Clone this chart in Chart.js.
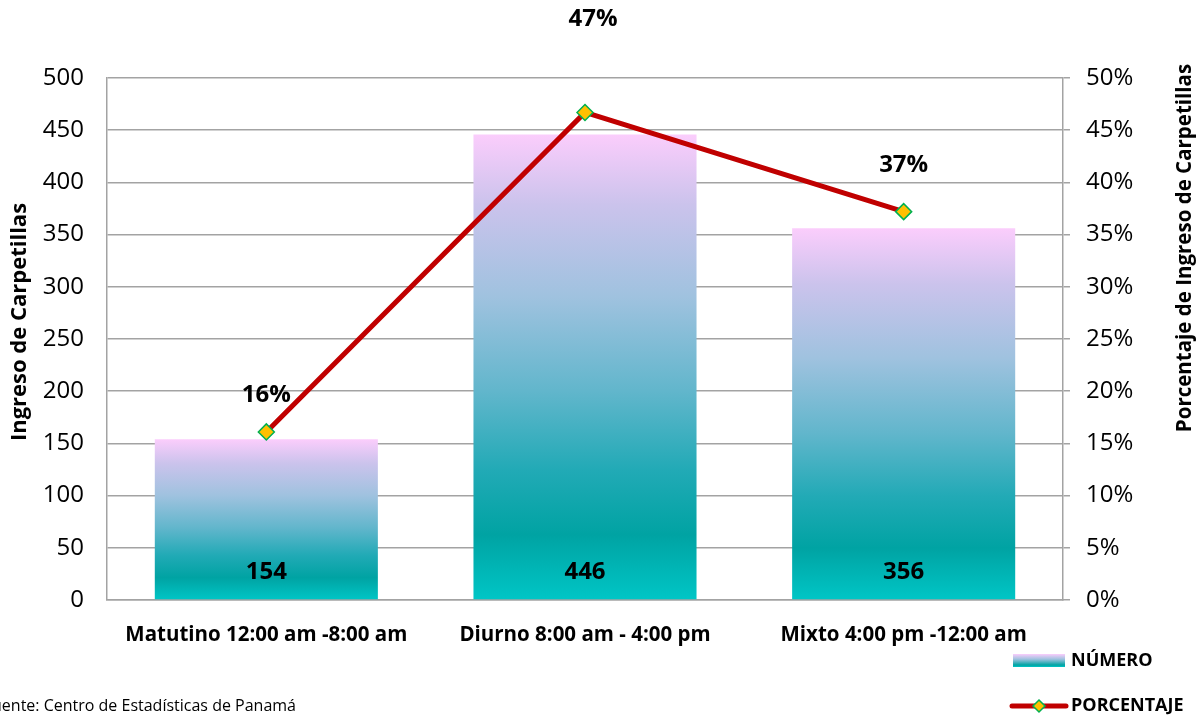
<!DOCTYPE html>
<html>
<head>
<meta charset="utf-8">
<script src="https://cdn.jsdelivr.net/npm/chart.js@4.4.1/dist/chart.umd.min.js"></script>
<style>
  html, body { margin: 0; padding: 0; background: #fff; }
  #wrap { width: 1201px; height: 718px; }
</style>
</head>
<body>
<div id="wrap"><canvas id="chart"></canvas></div>
<script>
// ---- data ----
const categories = ['Matutino 12:00 am -8:00 am', 'Diurno 8:00 am - 4:00 pm', 'Mixto 4:00 pm -12:00 am'];
const numero = [154, 446, 356];
const porcentaje = [16.1, 46.7, 37.2];
const porcentajeLabels = ['16%', '47%', '37%'];

const FONT = "'Open Sans', sans-serif";
Chart.defaults.font.family = FONT;
Chart.defaults.color = '#000';

const GRID = '#a3a3a3';

// degradado rosa -> azul -> verde azulado por barra
function barGradient(ctx) {
  const chart = ctx.chart;
  const area = chart.chartArea;
  if (!area || ctx.type !== 'data') return '#00a6a6';
  const y = chart.scales.y;
  const top = y.getPixelForValue(ctx.raw);
  const bottom = y.getPixelForValue(0);
  const g = chart.ctx.createLinearGradient(0, top, 0, bottom);
  g.addColorStop(0, '#fbcdfc');
  g.addColorStop(0.15, '#cbc3ec');
  g.addColorStop(0.35, '#9fc2df');
  g.addColorStop(0.55, '#62b6cc');
  g.addColorStop(0.72, '#22aab6');
  g.addColorStop(0.86, '#00a3a3');
  g.addColorStop(1, '#00c6c6');
  return g;
}

// etiquetas, titulos de ejes y leyenda
const extras = {
  id: 'extras',
  afterDatasetsDraw(chart) {
    const { ctx, chartArea } = chart;
    const barMeta = chart.getDatasetMeta(1);
    const lineMeta = chart.getDatasetMeta(0);
    ctx.save();
    ctx.fillStyle = '#000';
    ctx.textAlign = 'center';
    ctx.textBaseline = 'middle';

    // valores dentro de las barras
    ctx.font = "bold 24px " + FONT;
    barMeta.data.forEach((bar, i) => {
      ctx.fillText(numero[i], bar.x, chartArea.bottom - 28);
    });

    // porcentajes sobre los puntos (posicion como en Excel)
    const offs = [-37, -93, -46];
    lineMeta.data.forEach((pt, i) => {
      ctx.fillText(porcentajeLabels[i], pt.x + (i === 1 ? 8 : 0), pt.y + offs[i]);
    });

    // titulos de ejes (ambos de abajo hacia arriba)
    ctx.font = "bold 22px " + FONT;
    ctx.save();
    ctx.translate(20, 322);
    ctx.rotate(-Math.PI / 2);
    ctx.fillText('Ingreso de Carpetillas', 0, 0);
    ctx.restore();
    ctx.font = "bold 20.5px " + FONT;
    ctx.save();
    ctx.translate(1185, 248);
    ctx.rotate(-Math.PI / 2);
    ctx.fillText('Porcentaje de Ingreso de Carpetillas', 0, 0);
    ctx.restore();

    // leyenda
    const lg = ctx.createLinearGradient(0, 654, 0, 667);
    lg.addColorStop(0, '#fbcdfc');
    lg.addColorStop(0.4, '#9fc2df');
    lg.addColorStop(0.85, '#00a3a3');
    lg.addColorStop(1, '#00c6c6');
    ctx.fillStyle = lg;
    ctx.fillRect(1013, 654, 52, 13);

    ctx.strokeStyle = '#c00000';
    ctx.lineWidth = 5;
    ctx.lineCap = 'round';
    ctx.beginPath();
    ctx.moveTo(1012, 706);
    ctx.lineTo(1066, 706);
    ctx.stroke();
    ctx.fillStyle = '#ffc000';
    ctx.strokeStyle = '#00b050';
    ctx.lineWidth = 1.5;
    ctx.beginPath();
    ctx.moveTo(1039, 700); ctx.lineTo(1045, 706); ctx.lineTo(1039, 712); ctx.lineTo(1033, 706);
    ctx.closePath();
    ctx.fill(); ctx.stroke();

    ctx.fillStyle = '#000';
    ctx.textAlign = 'left';
    ctx.font = "bold 18px " + FONT;
    ctx.fillText('NÚMERO', 1071, 661);
    ctx.fillText('PORCENTAJE', 1071, 706);

    // fuente (recortada a la izquierda como en el original)
    ctx.font = "16px " + FONT;
    ctx.textAlign = 'right';
    ctx.fillText('Fuente: Centro de Estadísticas de Panamá', 296, 706);
    ctx.restore();
  }
};

new Chart(document.getElementById('chart'), {
  data: {
    labels: categories,
    datasets: [
      {
        type: 'line',
        label: 'PORCENTAJE',
        data: porcentaje,
        yAxisID: 'y1',
        borderColor: '#c00000',
        borderWidth: 5,
        pointStyle: 'rectRot',
        pointRadius: 8,
        pointBackgroundColor: '#ffc000',
        pointBorderColor: '#00b050',
        pointBorderWidth: 1.5,
        order: 0
      },
      {
        type: 'bar',
        label: 'NÚMERO',
        data: numero,
        yAxisID: 'y',
        backgroundColor: barGradient,
        categoryPercentage: 0.7,
        barPercentage: 1,
        order: 1
      }
    ]
  },
  plugins: [extras],
  options: {
    responsive: true,
    maintainAspectRatio: false,
    animation: false,
    layout: { padding: { top: 78, left: 0, right: 0, bottom: 0 } },
    plugins: {
      legend: { display: false },
      tooltip: { enabled: false }
    },
    scales: {
      x: {
        grid: { display: false },
        border: { display: true, color: GRID, width: 1.5 },
        ticks: { padding: 15, font: { size: 20.5, weight: 'bold' }, maxRotation: 0 },
        afterFit: s => { s.height = 118; }
      },
      y: {
        position: 'left',
        min: 0, max: 500,
        ticks: { stepSize: 50, padding: 23, font: { size: 24 } },
        grid: { color: GRID, lineWidth: 1.5, drawTicks: false },
        border: { color: GRID, width: 1.5 },
        afterFit: s => { s.width = 107; }
      },
      y1: {
        position: 'right',
        min: 0, max: 50,
        ticks: { stepSize: 5, padding: 16, font: { size: 24 }, callback: v => v + '%' },
        grid: { drawOnChartArea: false, color: GRID, lineWidth: 1.5, tickLength: 7 },
        border: { color: GRID, width: 1.5 },
        afterFit: s => { s.width = 138; }
      }
    }
  }
});
</script>
</body>
</html>
